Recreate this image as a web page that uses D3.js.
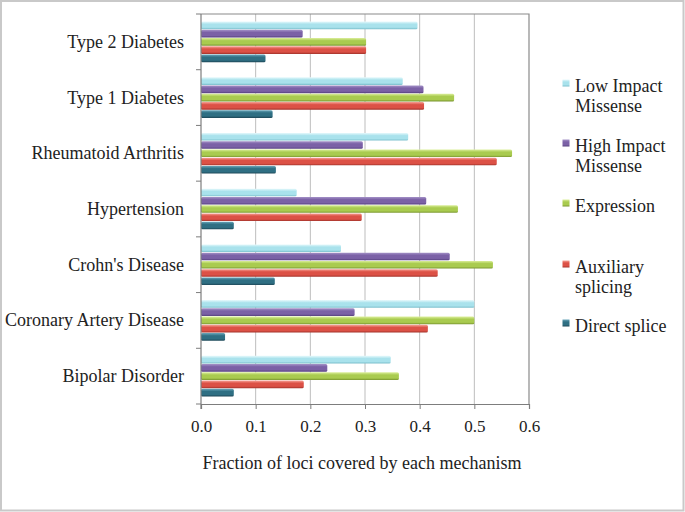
<!DOCTYPE html>
<html>
<head>
<meta charset="utf-8">
<script src="https://cdn.jsdelivr.net/npm/d3@7"></script>
<style>
  html, body { margin: 0; padding: 0; background: #fff; }
  svg { display: block; }
  svg text { font-family: "Liberation Serif", "Times New Roman", serif !important; fill: #222; }
</style>
</head>
<body>
<svg id="chart" width="685" height="512"></svg>
<script>
const categories = ["Type 2 Diabetes", "Type 1 Diabetes", "Rheumatoid Arthritis", "Hypertension", "Crohn's Disease", "Coronary Artery Disease", "Bipolar Disorder"];
const seriesNames = ["Low Impact Missense", "High Impact Missense", "Expression", "Auxiliary splicing", "Direct splice"];
const lowImpact  = [0.396, 0.369, 0.379, 0.175, 0.256, 0.500, 0.347];
const highImpact = [0.186, 0.407, 0.296, 0.412, 0.455, 0.281, 0.231];
const expression = [0.302, 0.463, 0.569, 0.470, 0.534, 0.500, 0.362];
const auxiliary  = [0.302, 0.408, 0.541, 0.294, 0.433, 0.415, 0.188];
const direct     = [0.118, 0.131, 0.137, 0.060, 0.135, 0.044, 0.060];
const xTicks = [0, 0.1, 0.2, 0.3, 0.4, 0.5, 0.6];
const legendLines = [["Low Impact", "Missense"], ["High Impact", "Missense"], ["Expression"], ["Auxiliary", "splicing"], ["Direct splice"]];
const xTitle = "Fraction of loci covered by each mechanism";

const seriesValues = [lowImpact, highImpact, expression, auxiliary, direct];
const palette = [
  {top: "#e6f9fc", mid: "#a9e2ec", bot: "#7bbfcc"},
  {top: "#a593c8", mid: "#7b61a6", bot: "#56407e"},
  {top: "#dcef9c", mid: "#a9cb4f", bot: "#7a9630"},
  {top: "#f7a397", mid: "#dc5146", bot: "#a3332b"},
  {top: "#6aa6ba", mid: "#2f6f83", bot: "#1d4757"}
];

const svg = d3.select("#chart");
const W = 685, H = 512;
const plot = {left: 201, right: 529, top: 14, bottom: 404};
const serif = "'Liberation Serif', 'Times New Roman', serif";

// outer frame
svg.append("rect").attr("x", 1).attr("y", 1).attr("width", W - 2.5).attr("height", H - 2.5)
  .attr("fill", "#fff").attr("stroke", "#c9c9c9").attr("stroke-width", 2);

// gradients
const defs = svg.append("defs");
palette.forEach((p, i) => {
  const g = defs.append("linearGradient").attr("id", "grad" + i)
    .attr("x1", 0).attr("y1", 0).attr("x2", 0).attr("y2", 1);
  g.append("stop").attr("offset", "0%").attr("stop-color", p.top);
  g.append("stop").attr("offset", "35%").attr("stop-color", p.mid);
  g.append("stop").attr("offset", "75%").attr("stop-color", p.mid);
  g.append("stop").attr("offset", "100%").attr("stop-color", p.bot);
});

const x = d3.scaleLinear().domain([0, 0.6]).range([plot.left, plot.right]);
const y = d3.scaleBand().domain(categories).range([plot.top, plot.bottom]).paddingInner(0.26).paddingOuter(0.13);
const ySub = d3.scaleBand().domain(d3.range(seriesNames.length)).range([0, y.bandwidth()]);

// gridlines
svg.append("g").selectAll("line").data(xTicks.slice(1, -1)).join("line")
  .attr("x1", d => x(d)).attr("x2", d => x(d))
  .attr("y1", plot.top).attr("y2", plot.bottom)
  .attr("stroke", "#bdbdbd").attr("stroke-width", 1);

// plot border top/right
svg.append("path")
  .attr("d", `M${plot.left},${plot.top}H${plot.right}V${plot.bottom}`)
  .attr("fill", "none").attr("stroke", "#8a8a8a").attr("stroke-width", 1.2);

// bars
categories.forEach((c, ci) => {
  seriesValues.forEach((vals, si) => {
    const y0 = y(c) + ySub(si) + 0.3;
    const h = ySub.bandwidth() - 0.6;
    svg.append("rect")
      .attr("x", x(0))
      .attr("y", y0)
      .attr("width", x(vals[ci]) - x(0))
      .attr("height", h)
      .attr("rx", 1.5)
      .attr("fill", `url(#grad${si})`);
  });
});

// x axis
const xAxis = svg.append("g").attr("transform", `translate(0,${plot.bottom})`)
  .call(d3.axisBottom(x).tickValues(xTicks).tickFormat(d3.format(".1f")).tickSize(5).tickPadding(11))
  .attr("font-family", serif);
xAxis.select(".domain").attr("stroke", "#7d7d7d").attr("stroke-width", 1.2);
xAxis.selectAll(".tick line").attr("stroke", "#7d7d7d");
xAxis.selectAll("text").style("font-family", serif).style("font-size", "17px").attr("fill", "#222");

// y axis with category separators
const yAxis = svg.append("g").attr("transform", `translate(${plot.left},0)`);
yAxis.append("line").attr("x1", 0).attr("x2", 0).attr("y1", plot.top).attr("y2", plot.bottom + 5)
  .attr("stroke", "#7d7d7d").attr("stroke-width", 1.2);
const sep = d3.range(categories.length + 1).map(i => plot.top + i * (plot.bottom - plot.top) / categories.length);
yAxis.selectAll("line.t").data(sep).join("line").attr("class", "t")
  .attr("x1", -5).attr("x2", 0).attr("y1", d => d).attr("y2", d => d)
  .attr("stroke", "#7d7d7d");
yAxis.selectAll("text").data(categories).join("text")
  .attr("x", -17)
  .attr("y", d => y(d) + y.bandwidth() / 2 + 6)
  .attr("text-anchor", "end")
  .style("font-family", serif)
  .style("font-size", "18px")
  .text(d => d);

// x title
svg.append("text").attr("x", (plot.left + plot.right) / 2 - 3).attr("y", 469)
  .attr("text-anchor", "middle").style("font-family", serif).style("font-size", "18px").text(xTitle);

// legend
const legendY = [92, 152, 212, 273, 332];
const lg = svg.append("g");
legendLines.forEach((lines, i) => {
  lg.append("rect").attr("x", 562.5).attr("y", legendY[i] - 12.5).attr("width", 7).attr("height", 7)
    .attr("fill", `url(#grad${i})`);
  lines.forEach((t, j) => {
    lg.append("text").attr("x", 575).attr("y", legendY[i] + j * 20)
      .style("font-family", serif).style("font-size", "18px").text(t);
  });
});
</script>
</body>
</html>
